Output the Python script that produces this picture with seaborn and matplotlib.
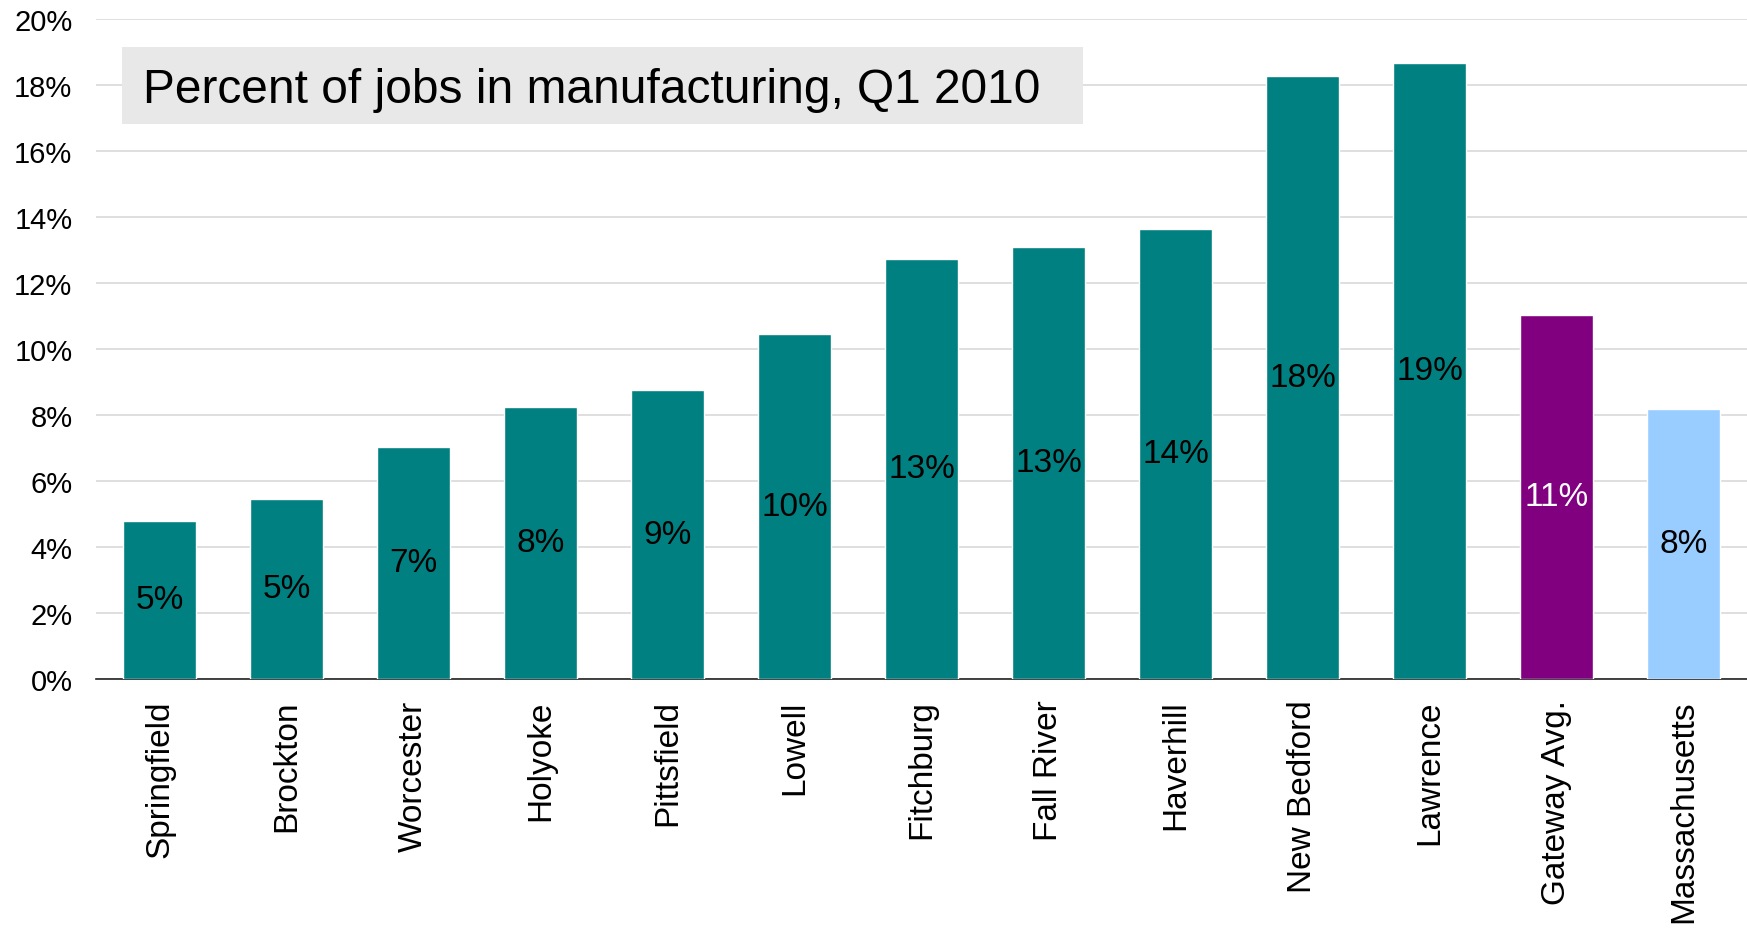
import matplotlib
matplotlib.use("Agg")
import matplotlib.pyplot as plt
import matplotlib.patches as mpatches
import seaborn as sns
import pandas as pd

# Data (percent of jobs in manufacturing)
cities = ['Springfield', 'Brockton', 'Worcester', 'Holyoke', 'Pittsfield', 'Lowell',
          'Fitchburg', 'Fall River', 'Haverhill', 'New Bedford', 'Lawrence',
          'Gateway Avg.', 'Massachusetts']
pct_manufacturing = [4.78, 5.44, 7.03, 8.24, 8.75, 10.47,
                     12.74, 13.11, 13.65, 18.28, 18.68,
                     11.02, 8.17]
bar_colors = ['#008080'] * 11 + ['#800080', '#99ccff']
label_colors = ['black'] * 11 + ['white', 'black']
y_ticks = list(range(0, 21, 2))
title = 'Percent of jobs in manufacturing, Q1 2010'

df = pd.DataFrame({'city': cities, 'pct': pct_manufacturing})

sns.set_style('white')
plt.rcParams['font.family'] = ['Liberation Sans', 'DejaVu Sans']
plt.rcParams['text.color'] = 'black'
plt.rcParams['xtick.color'] = 'black'
plt.rcParams['ytick.color'] = 'black'

fig = plt.figure(figsize=(17.47, 9.29), dpi=100)
ax = fig.add_axes([0.055, 0.2685, 0.945, 0.7095])

sns.barplot(data=df, x='city', y='pct', hue='city', palette=bar_colors,
            legend=False, width=0.57, saturation=1, ax=ax, zorder=3)

# labels in the middle of each bar
for i, (v, c) in enumerate(zip(pct_manufacturing, label_colors)):
    ax.text(i, v / 2, f'{v:.0f}%', ha='center', va='center', fontsize=24, color=c, zorder=4)

ax.set_xlim(-0.5, len(cities) - 0.5)
ax.set_ylim(0, 20)
ax.set_yticks(y_ticks)
ax.set_yticklabels([f'{t}%' for t in y_ticks])
ax.yaxis.grid(True, color='#d9d9d9', linewidth=1.2, zorder=0)
ax.set_axisbelow(True)
ax.tick_params(axis='y', length=0, pad=17, labelsize=21)
ax.tick_params(axis='x', length=0, pad=15, labelsize=24, labelrotation=90)
ax.set_xlabel('')
ax.set_ylabel('')
for s in ['left', 'right', 'top']:
    ax.spines[s].set_visible(False)
ax.spines['bottom'].set_color('#222222')
ax.spines['bottom'].set_linewidth(1.2)

# title in a grey box
fig.patches.append(mpatches.Rectangle((0.0698, 0.8654), 0.550, 0.0829,
                                      transform=fig.transFigure, facecolor='#e8e8e8',
                                      edgecolor='none', zorder=5))
fig.text(0.0819, 0.889, title, fontsize=34.5, va='baseline', ha='left', zorder=6)

fig.savefig('out.png', dpi=100)
